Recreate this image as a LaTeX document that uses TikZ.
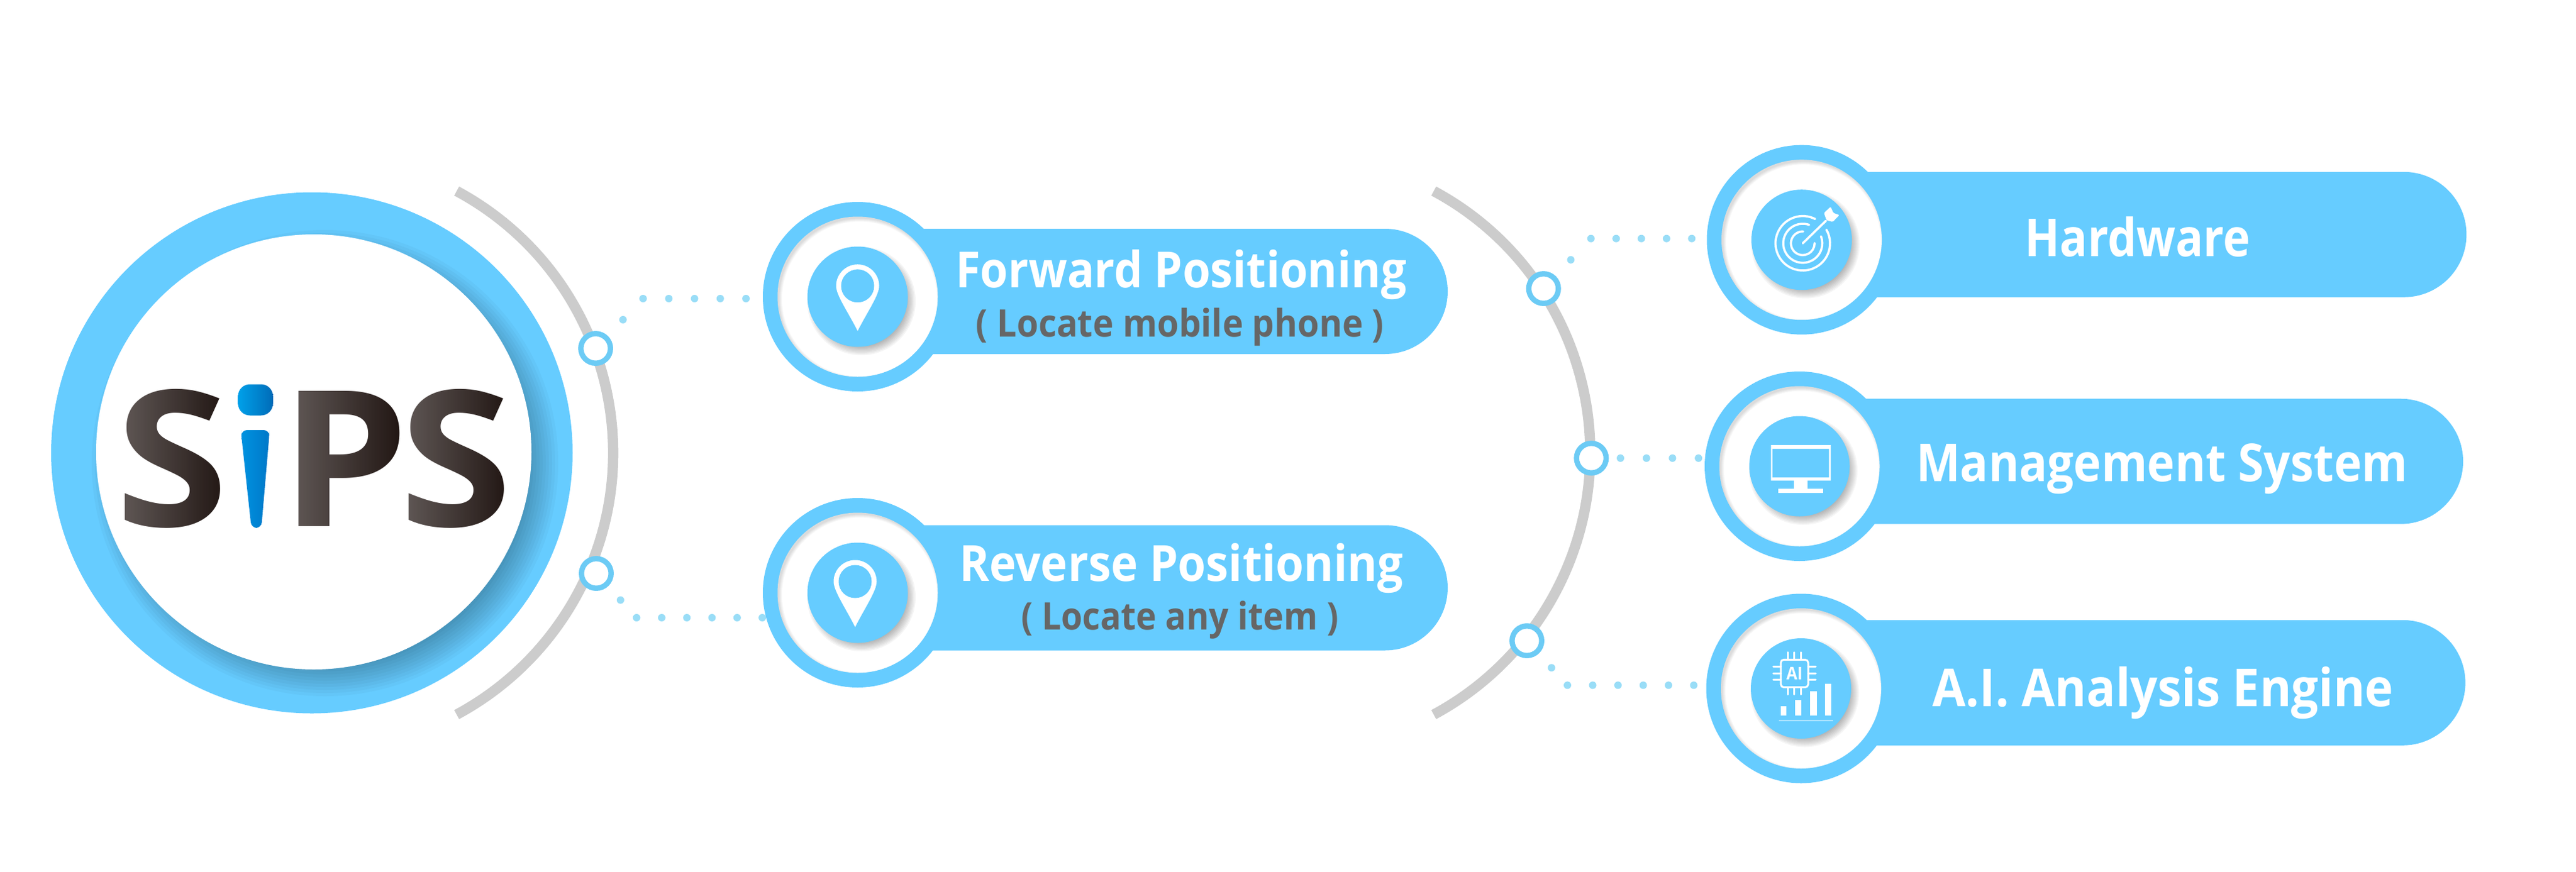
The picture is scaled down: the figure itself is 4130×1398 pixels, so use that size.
\documentclass[tikz,border=0pt]{standalone}
\usepackage{graphicx}
\usepackage{fontspec}
\setmainfont{Open Sans}
\usetikzlibrary{shapes.misc,fadings,calc}
\definecolor{sky}{HTML}{66CCFF}
\definecolor{ringc}{HTML}{6CCBF5}
\definecolor{dotc}{HTML}{99DDF7}
\definecolor{arcc}{HTML}{CCCCCC}
\definecolor{subt}{HTML}{666666}
\definecolor{logod}{HTML}{231815}
\pgfdeclarelayer{back}
\pgfsetlayers{back,main}
\tikzset{
  disc/.style={circle,inner sep=0pt,outer sep=0pt,draw=none},
  barbox/.style={rounded rectangle,rounded rectangle left arc=none,fill=sky,draw=none,inner sep=0pt,outer sep=0pt,minimum height=201pt},
  ringnode/.style={circle,inner sep=0pt,outer sep=0pt,minimum size=47.5pt,draw=ringc,line width=8.5pt,fill=white},
  grayarc/.style={draw=arcc,line width=16.5pt},
  dotlink/.style={draw=dotc,line width=12pt,line cap=round},
  lab/.style={inner sep=0pt,outer sep=0pt,anchor=base,font=\bfseries},
  iconline/.style={draw=white,line width=3.5pt,line cap=round},
}
% \txt{width}{size}{text}
\newcommand\txt[3]{\resizebox{#1pt}{\height}{\fontsize{#2}{#2}\selectfont #3}}
% \badge{name}{x}{y}
\newcommand\badge[3]{%
  \node[disc,fill=sky,minimum size=304pt] (#1) at (#2,#3) {};
  \node[disc,fill=white,minimum size=257pt] (#1w) at (#2,#3) {};
  \begin{scope}
    \clip (#2,#3) circle (128.5pt);
    \foreach \k in {0,1,...,5}
      \fill[black,fill opacity=.022,even odd rule] (#2,#3) circle (170pt) (#2+3,#3+3.5) circle (129pt-\k pt);
  \end{scope}
  \foreach \k in {-7,-5,...,7}
    \fill[black,fill opacity=.04] (#2+6,#3+7) circle (80pt+\k pt);
  \node[disc,fill=sky,minimum size=161pt] (#1b) at (#2,#3) {};
}
% \pinicon{x}{head y}{tip y}
\newcommand\pinicon[3]{%
  \fill[white] (#1,#3) .. controls (#1-15,#3-30) and (#1-34.5,#2+15) .. (#1-34.5,#2)
    .. controls (#1-34.5,#2-19) and (#1-19,#2-34.5) .. (#1,#2-34.5)
    .. controls (#1+19,#2-34.5) and (#1+34.5,#2-19) .. (#1+34.5,#2)
    .. controls (#1+34.5,#2+15) and (#1+15,#3-30) .. (#1,#3) -- cycle;
  \fill[sky] (#1,#2) circle (26.5pt);
}
\begin{document}
\begin{tikzpicture}[x=1pt,y=-1pt]
\useasboundingbox (0,0) rectangle (4130,1398);
% ---------- hub
\node[disc,fill=sky,minimum size=836pt] (hub) at (500,726.5) {};
\begin{scope}
  \clip (500,726.5) circle (418pt);
  \foreach \k in {-25,-20,...,25}
    \fill[black,fill opacity=.028] (521,743) circle (349pt+\k pt);
\end{scope}
\node[disc,fill=white,minimum size=698pt] (hubw) at (503,725) {};
% logo
\node[lab] (logoS) at (276,844) {\scalebox{1.08}[1]{\fontsize{304}{304}\selectfont\color{logod}S}};
\node[lab] (logoP) at (553,844) {\scalebox{1.08}[1]{\fontsize{304}{304}\selectfont\color{logod}P}};
\node[lab] (logoT) at (731,844) {\scalebox{1.08}[1]{\fontsize{304}{304}\selectfont\color{logod}S}};
\foreach \a/\b in {200/356,474/638,654/810}
  \fill[white,fill opacity=.27,path fading=east] (\a,612) rectangle (\b,856);
\shade[left color={rgb,255:red,0;green,160;blue,233},right color={rgb,255:red,0;green,108;blue,184},rounded corners=19pt]
  (381.6,616.5) rectangle (437.6,666.5);
\shade[left color={rgb,255:red,0;green,146;blue,224},right color={rgb,255:red,0;green,120;blue,200},rounded corners=9pt]
  (387,690) -- (431.7,690) -- (431.7,699) -- (419,847) -- (403,847) -- (387,699) -- cycle;
% ---------- bars
\node[barbox,minimum width=921pt] (fwdBar) at (1860.5,467.5) {};
\node[barbox,minimum width=921pt] (revBar) at (1860.5,943) {};
\node[barbox,minimum width=1054pt] (hwBar) at (3427.4,376.3) {};
\node[barbox,minimum width=1049pt] (mgBar) at (3424.5,740.2) {};
\node[barbox,minimum width=1053pt] (aiBar) at (3426.1,1095.3) {};
% ---------- badges
\badge{fwd}{1375}{476}
\badge{rev}{1375}{951}
\badge{hw}{2888.5}{384.7}
\badge{mg}{2885}{748}
\badge{ai}{2887.5}{1104.5}
\pinicon{1375}{458.7}{531}
\pinicon{1371}{933}{1006}
% target icon
\begin{scope}[shift={(2890.3,390.3)},y=1pt]
  \draw[iconline] (63:43.7) arc (63:390:43.7);
  \draw[iconline] (71:31.3) arc (71:381:31.3);
  \draw[iconline] (88:19) arc (88:361:19);
  \draw[iconline] (0,0) -- (37,36);
  \fill[white,rounded corners=1.5pt] (34,48.7) -- (44.7,58.7) -- (49,48.7) -- (58.7,45.3) -- (48,34.3) -- (38,37) -- cycle;
\end{scope}
% monitor icon
\fill[white,even odd rule] (2839.3,714) rectangle (2935,771) (2841.7,720) rectangle (2932.3,766);
\fill[white] (2876,771) rectangle (2897.7,784);
\fill[white] (2850.7,784) rectangle (2923.3,790.7);
% AI icon
\draw[draw=white,line width=3pt,rounded corners=5pt] (2855,1058.3) rectangle (2899,1102.7);
\foreach \v in {2866,2876.7,2887.7} {
  \draw[iconline,line width=3pt] (\v,1046.5) -- (\v,1058.3);
  \draw[iconline,line width=3pt] (\v,1102.7) -- (\v,1114);
}
\foreach \v in {1069.3,1080,1090.7} {
  \draw[iconline,line width=3pt] (2843,\v) -- (2855,\v);
  \draw[iconline,line width=3pt] (2899,\v) -- (2911,\v);
}
\node[lab,text=white] (aiMark) at (2877,1090) {\txt{26}{28}{AI}};
\fill[white] (2854.7,1132.7) rectangle (2864.3,1148.3);
\fill[white] (2878.3,1123.3) rectangle (2888.3,1148.3);
\fill[white] (2902.3,1109) rectangle (2912.7,1148.3);
\fill[white] (2926,1097) rectangle (2936,1148.3);
\fill[white] (2852,1155.5) rectangle (2939,1156.5);
% ---------- labels
\node[lab,text=white] (t1) at (1893.5,461.7) {\txt{723}{80}{Forward Positioning}};
\node[lab,text=subt] (t1b) at (1892,540) {\txt{654}{61}{( Locate mobile phone )}};
\node[lab,text=white] (t2) at (1894,932.6) {\txt{712}{80}{Reverse Positioning}};
\node[lab,text=subt] (t2b) at (1891.5,1010.7) {\txt{509}{61}{( Locate any item )}};
\node[lab,text=white] (t3) at (3427.3,411) {\txt{361}{84}{Hardware}};
\node[lab,text=white] (t4) at (3466,772) {\txt{788}{84}{Management System}};
\node[lab,text=white] (t5) at (3468,1133) {\txt{739}{84}{A.I. Analysis Engine}};
% ---------- junction rings
\node[ringnode] (jL1) at (955,559) {};
\node[ringnode] (jL2) at (956,920) {};
\node[ringnode] (jR1) at (2474.7,463) {};
\node[ringnode] (jR2) at (2551.3,735) {};
\node[ringnode] (jR3) at (2448,1028) {};
% ---------- behind everything
\coordinate (cL) at (506,726.5);
\coordinate (cR) at (2072.5,726.5);
\coordinate (bL1) at (1031,479);
\coordinate (eL1) at (1198,479);
\coordinate (bL2) at (1020.6,991);
\coordinate (eL2) at (1226,991);
\coordinate (bR1) at (2550.7,382.7);
\coordinate (eR1) at (2714,382.7);
\coordinate (eR2) at (2725,735);
\coordinate (bR3) at (2513,1099.3);
\coordinate (eR3) at (2717,1099.3);
\begin{pgfonlayer}{back}
  \fill[white] (0,0) rectangle (4130,1398);
  \draw[grayarc] ($(cL)+(-61.7:477)$) arc (-61.7:61.7:477);
  \draw[grayarc] ($(cR)+(-61.7:477)$) arc (-61.7:61.7:477);
  \draw[dotlink,dash pattern=on 0pt off 47pt,dash phase=30.4pt] (jL1.center) -- (bL1);
  \draw[dotlink,dash pattern=on 0pt off 41.25pt] (bL1) -- (eL1);
  \draw[dotlink,dash pattern=on 0pt off 38.3pt,dash phase=18.9pt] (jL2.center) -- (bL2);
  \draw[dotlink,dash pattern=on 0pt off 40.3pt] (bL2) -- (eL2);
  \draw[dotlink,dash pattern=on 0pt off 47pt,dash phase=30.4pt] (jR1.center) -- (bR1);
  \draw[dotlink,dash pattern=on 0pt off 40.4pt] (bR1) -- (eR1);
  \draw[dotlink,dash pattern=on 0pt off 41.7pt,dash phase=36.7pt] (jR2.center) -- (eR2);
  \draw[dotlink,dash pattern=on 0pt off 37.9pt,dash phase=17.2pt] (jR3.center) -- (bR3);
  \draw[dotlink,dash pattern=on 0pt off 40.5pt] (bR3) -- (eR3);
\end{pgfonlayer}
\end{tikzpicture}
\end{document}
